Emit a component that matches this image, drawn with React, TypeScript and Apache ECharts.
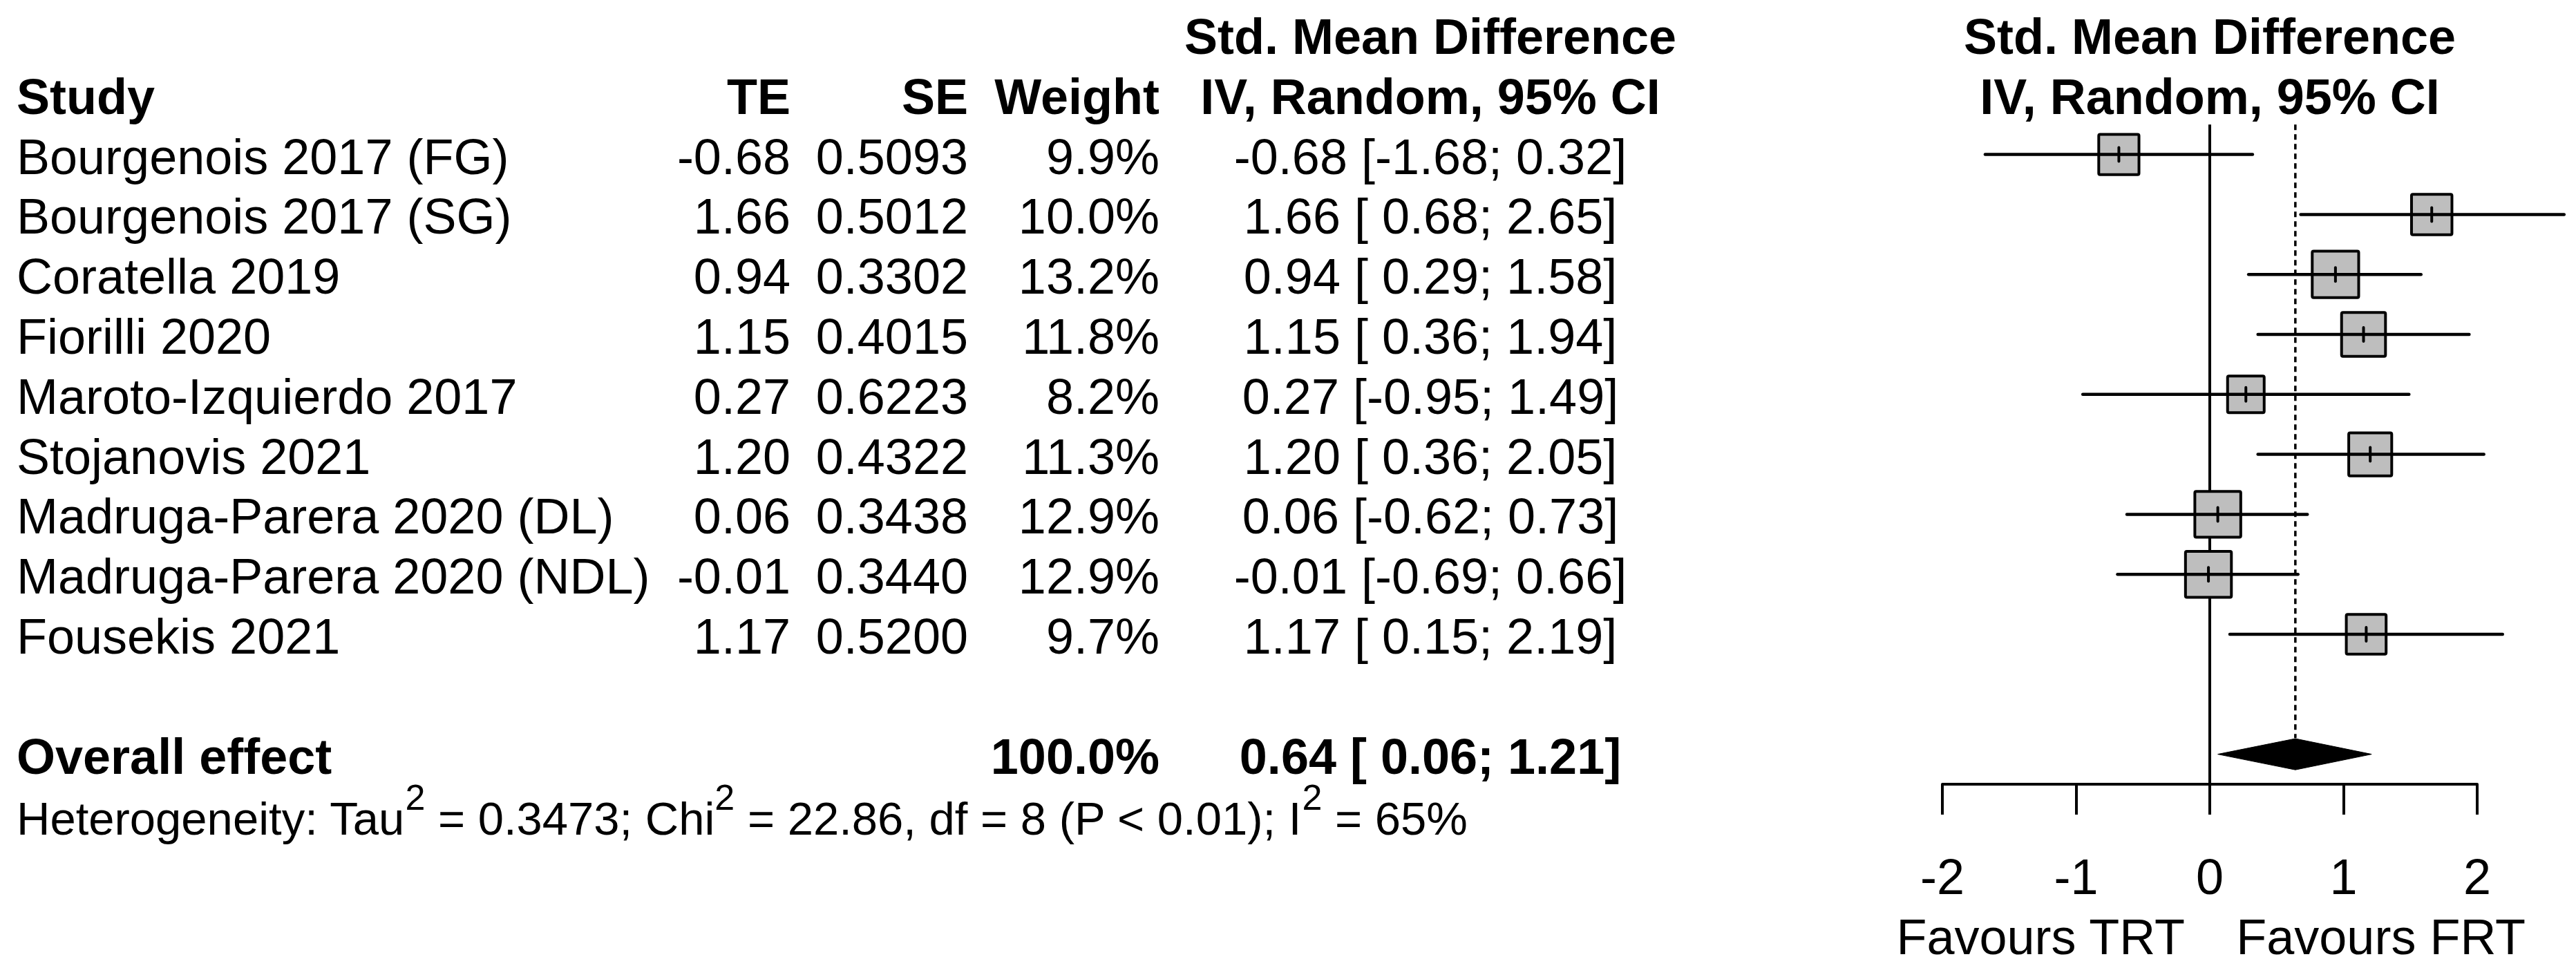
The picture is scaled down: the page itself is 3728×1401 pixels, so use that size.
import React, { useEffect, useRef } from "react";
import * as echarts from "echarts";

const studies = [
  "Bourgenois 2017 (FG)",
  "Bourgenois 2017 (SG)",
  "Coratella 2019",
  "Fiorilli 2020",
  "Maroto-Izquierdo 2017",
  "Stojanovis 2021",
  "Madruga-Parera 2020 (DL)",
  "Madruga-Parera 2020 (NDL)",
  "Fousekis 2021",
];
const te = [-0.68, 1.66, 0.94, 1.15, 0.27, 1.2, 0.06, -0.01, 1.17];
const se = [0.5093, 0.5012, 0.3302, 0.4015, 0.6223, 0.4322, 0.3438, 0.344, 0.52];
const weights = [9.9, 10.0, 13.2, 11.8, 8.2, 11.3, 12.9, 12.9, 9.7];
const ciLower = [-1.68, 0.68, 0.29, 0.36, -0.95, 0.36, -0.62, -0.69, 0.15];
const ciUpper = [0.32, 2.65, 1.58, 1.94, 1.49, 2.05, 0.73, 0.66, 2.19];

const overallLabel = "Overall effect";
const overallEst = [0.64];
const overallLower = [0.06];
const overallUpper = [1.21];
const overallWeight = [100.0];

const hetTau2 = "0.3473";
const hetChi2 = "22.86";
const hetDf = "8";
const hetP = "P < 0.01";
const hetI2 = "65%";

const xTicks = [-2, -1, 0, 1, 2];
const favourLabels = ["Favours TRT", "Favours FRT"];
const favourPos = [-1.265, 1.28];

const colHeaders = ["Study", "TE", "SE", "Weight"];
const smdHeader = ["Std. Mean Difference", "IV, Random, 95% CI"];

const FONT = '"Liberation Sans", Arial, Helvetica, sans-serif';

const fmtSigned = (v: number) => (v < 0 ? v.toFixed(2) : " " + v.toFixed(2));
const ciText = (e: number, l: number, u: number) =>
  `${e.toFixed(2)} [${fmtSigned(l)}; ${u.toFixed(2)}]`;

export default function App() {
  const ref = useRef<HTMLDivElement>(null);

  useEffect(() => {
    document.body.style.margin = "0";
    if (!ref.current) return;
    const chart = echarts.init(ref.current, undefined, { renderer: "svg" });

    const rowData = studies.map((_, i) => [te[i], i, ciLower[i], ciUpper[i], weights[i]]);
    const overallRow = studies.length + 1;
    const diamondData = [[overallEst[0], overallRow, overallLower[0], overallUpper[0]]];

    const option: any = {
      animation: false,
      backgroundColor: "#ffffff",
      grid: { left: 2811, top: 50, width: 774, height: 1085, containLabel: false },
      xAxis: {
        type: "value",
        min: xTicks[0],
        max: xTicks[xTicks.length - 1],
        interval: 1,
        position: "bottom",
        splitLine: { show: false },
        axisLine: { show: true, onZero: false, lineStyle: { color: "#000", width: 4 } },
        axisTick: { show: true, inside: false, length: 44, lineStyle: { color: "#000", width: 4 } },
        axisLabel: {
          show: true,
          margin: 134,
          fontSize: 72,
          fontFamily: FONT,
          color: "#000",
          verticalAlign: "middle",
        },
      },
      yAxis: { type: "value", min: -2, max: 10.5, inverse: true, show: false },
      series: [
        {
          type: "line",
          data: [
            [0, -0.5],
            [0, 10.5],
          ],
          symbol: "none",
          silent: true,
          z: 1,
          lineStyle: { color: "#000", width: 4 },
        },
        {
          type: "line",
          data: [
            [overallEst[0], -0.5],
            [overallEst[0], overallRow - 0.27],
          ],
          symbol: "none",
          silent: true,
          z: 1,
          lineStyle: { color: "#000", width: 3.5, type: [8, 6] },
        },
        {
          type: "custom",
          data: rowData,
          encode: { x: [0, 2, 3], y: 1 },
          clip: false,
          z: 3,
          renderItem: (params: any, api: any) => {
            const est = api.value(0);
            const r = api.value(1);
            const lo = api.value(2);
            const hi = api.value(3);
            const w = api.value(4);
            const c = api.coord([est, r]);
            const pl = api.coord([lo, r]);
            const ph = api.coord([hi, r]);
            const side = 18.5 * Math.sqrt(w);
            return {
              type: "group",
              children: [
                {
                  type: "rect",
                  shape: { x: c[0] - side / 2, y: c[1] - side / 2, width: side, height: side, r: 2 },
                  style: { fill: "#bebebe", stroke: "#000", lineWidth: 4 },
                },
                {
                  type: "line",
                  shape: { x1: pl[0], y1: c[1], x2: ph[0], y2: c[1] },
                  style: { stroke: "#000", lineWidth: 4.5, lineCap: "round" },
                },
                {
                  type: "line",
                  shape: { x1: c[0], y1: c[1] - 10, x2: c[0], y2: c[1] + 10 },
                  style: { stroke: "#000", lineWidth: 4, lineCap: "round" },
                },
              ],
            };
          },
        },
        {
          type: "custom",
          data: diamondData,
          encode: { x: [0, 2, 3], y: 1 },
          clip: false,
          z: 3,
          renderItem: (params: any, api: any) => {
            const est = api.value(0);
            const r = api.value(1);
            const lo = api.value(2);
            const hi = api.value(3);
            const p1 = api.coord([lo, r]);
            const p2 = api.coord([est, r - 0.26]);
            const p3 = api.coord([hi, r]);
            const p4 = api.coord([est, r + 0.26]);
            return {
              type: "polygon",
              shape: { points: [p1, p2, p3, p4] },
              style: { fill: "#000", stroke: "#000", lineWidth: 1 },
            };
          },
        },
      ],
    };
    chart.setOption(option);

    const rowY = (r: number) => chart.convertToPixel({ xAxisIndex: 0, yAxisIndex: 0 }, [0, r])[1];
    const xPix = (v: number) => chart.convertToPixel({ xAxisIndex: 0, yAxisIndex: 0 }, [v, 0])[0];

    const X_STUDY = 24;
    const X_TE = 1144;
    const X_SE = 1401;
    const X_W = 1678;
    const X_CI = 2070;
    const X_PLOT = xPix(0);

    const txt = (text: string, x: number, y: number, align: string, bold = false, size = 72) => ({
      type: "text",
      x,
      y,
      silent: true,
      style: {
        text,
        fill: "#000",
        fontSize: size,
        fontFamily: FONT,
        fontWeight: bold ? "bold" : "normal",
        align,
        verticalAlign: "middle",
      },
    });

    const g: any[] = [];
    const h1 = rowY(-2) + 3;
    const h2 = rowY(-1) + 3;
    g.push(txt(smdHeader[0], X_CI, h1, "center", true));
    g.push(txt(smdHeader[1], X_CI, h2, "center", true));
    g.push(txt(smdHeader[0], X_PLOT, h1, "center", true));
    g.push(txt(smdHeader[1], X_PLOT, h2, "center", true));
    g.push(txt(colHeaders[0], X_STUDY, h2, "left", true));
    g.push(txt(colHeaders[1], X_TE, h2, "right", true));
    g.push(txt(colHeaders[2], X_SE, h2, "right", true));
    g.push(txt(colHeaders[3], X_W, h2, "right", true));

    studies.forEach((s, i) => {
      const y = rowY(i) + 3;
      g.push(txt(s, X_STUDY, y, "left"));
      g.push(txt(te[i].toFixed(2), X_TE, y, "right"));
      g.push(txt(se[i].toFixed(4), X_SE, y, "right"));
      g.push(txt(weights[i].toFixed(1) + "%", X_W, y, "right"));
      g.push(txt(ciText(te[i], ciLower[i], ciUpper[i]), X_CI, y, "center"));
    });

    const yo = rowY(overallRow) + 3;
    g.push(txt(overallLabel, X_STUDY, yo, "left", true));
    g.push(txt(overallWeight[0].toFixed(1) + "%", X_W, yo, "right", true));
    g.push(txt(ciText(overallEst[0], overallLower[0], overallUpper[0]), X_CI, yo, "center", true));

    const yh = rowY(overallRow + 1) + 6;
    g.push({
      type: "text",
      x: X_STUDY,
      y: yh,
      silent: true,
      style: {
        text:
          `{a|Heterogeneity: Tau}{s|2}{a| = ${hetTau2}; Chi}{s|2}{a| = ${hetChi2}, df = ${hetDf} (${hetP}); I}{s|2}{a| = ${hetI2}}`,
        fill: "#000",
        fontSize: 67,
        fontFamily: FONT,
        align: "left",
        verticalAlign: "middle",
        rich: {
          a: { fontSize: 67, fontFamily: FONT, fill: "#000", lineHeight: 112, verticalAlign: "middle" },
          s: { fontSize: 52, fontFamily: FONT, fill: "#000", lineHeight: 52, verticalAlign: "top" },
        },
      },
    });

    const axisY = rowY(10.5);
    favourLabels.forEach((lab, i) => {
      g.push(txt(lab, xPix(favourPos[i]), axisY + 221, "center"));
    });

    chart.setOption({ graphic: g });

    return () => {
      chart.dispose();
    };
  }, []);

  return <div ref={ref} style={{ width: 3728, height: 1401 }} />;
}
